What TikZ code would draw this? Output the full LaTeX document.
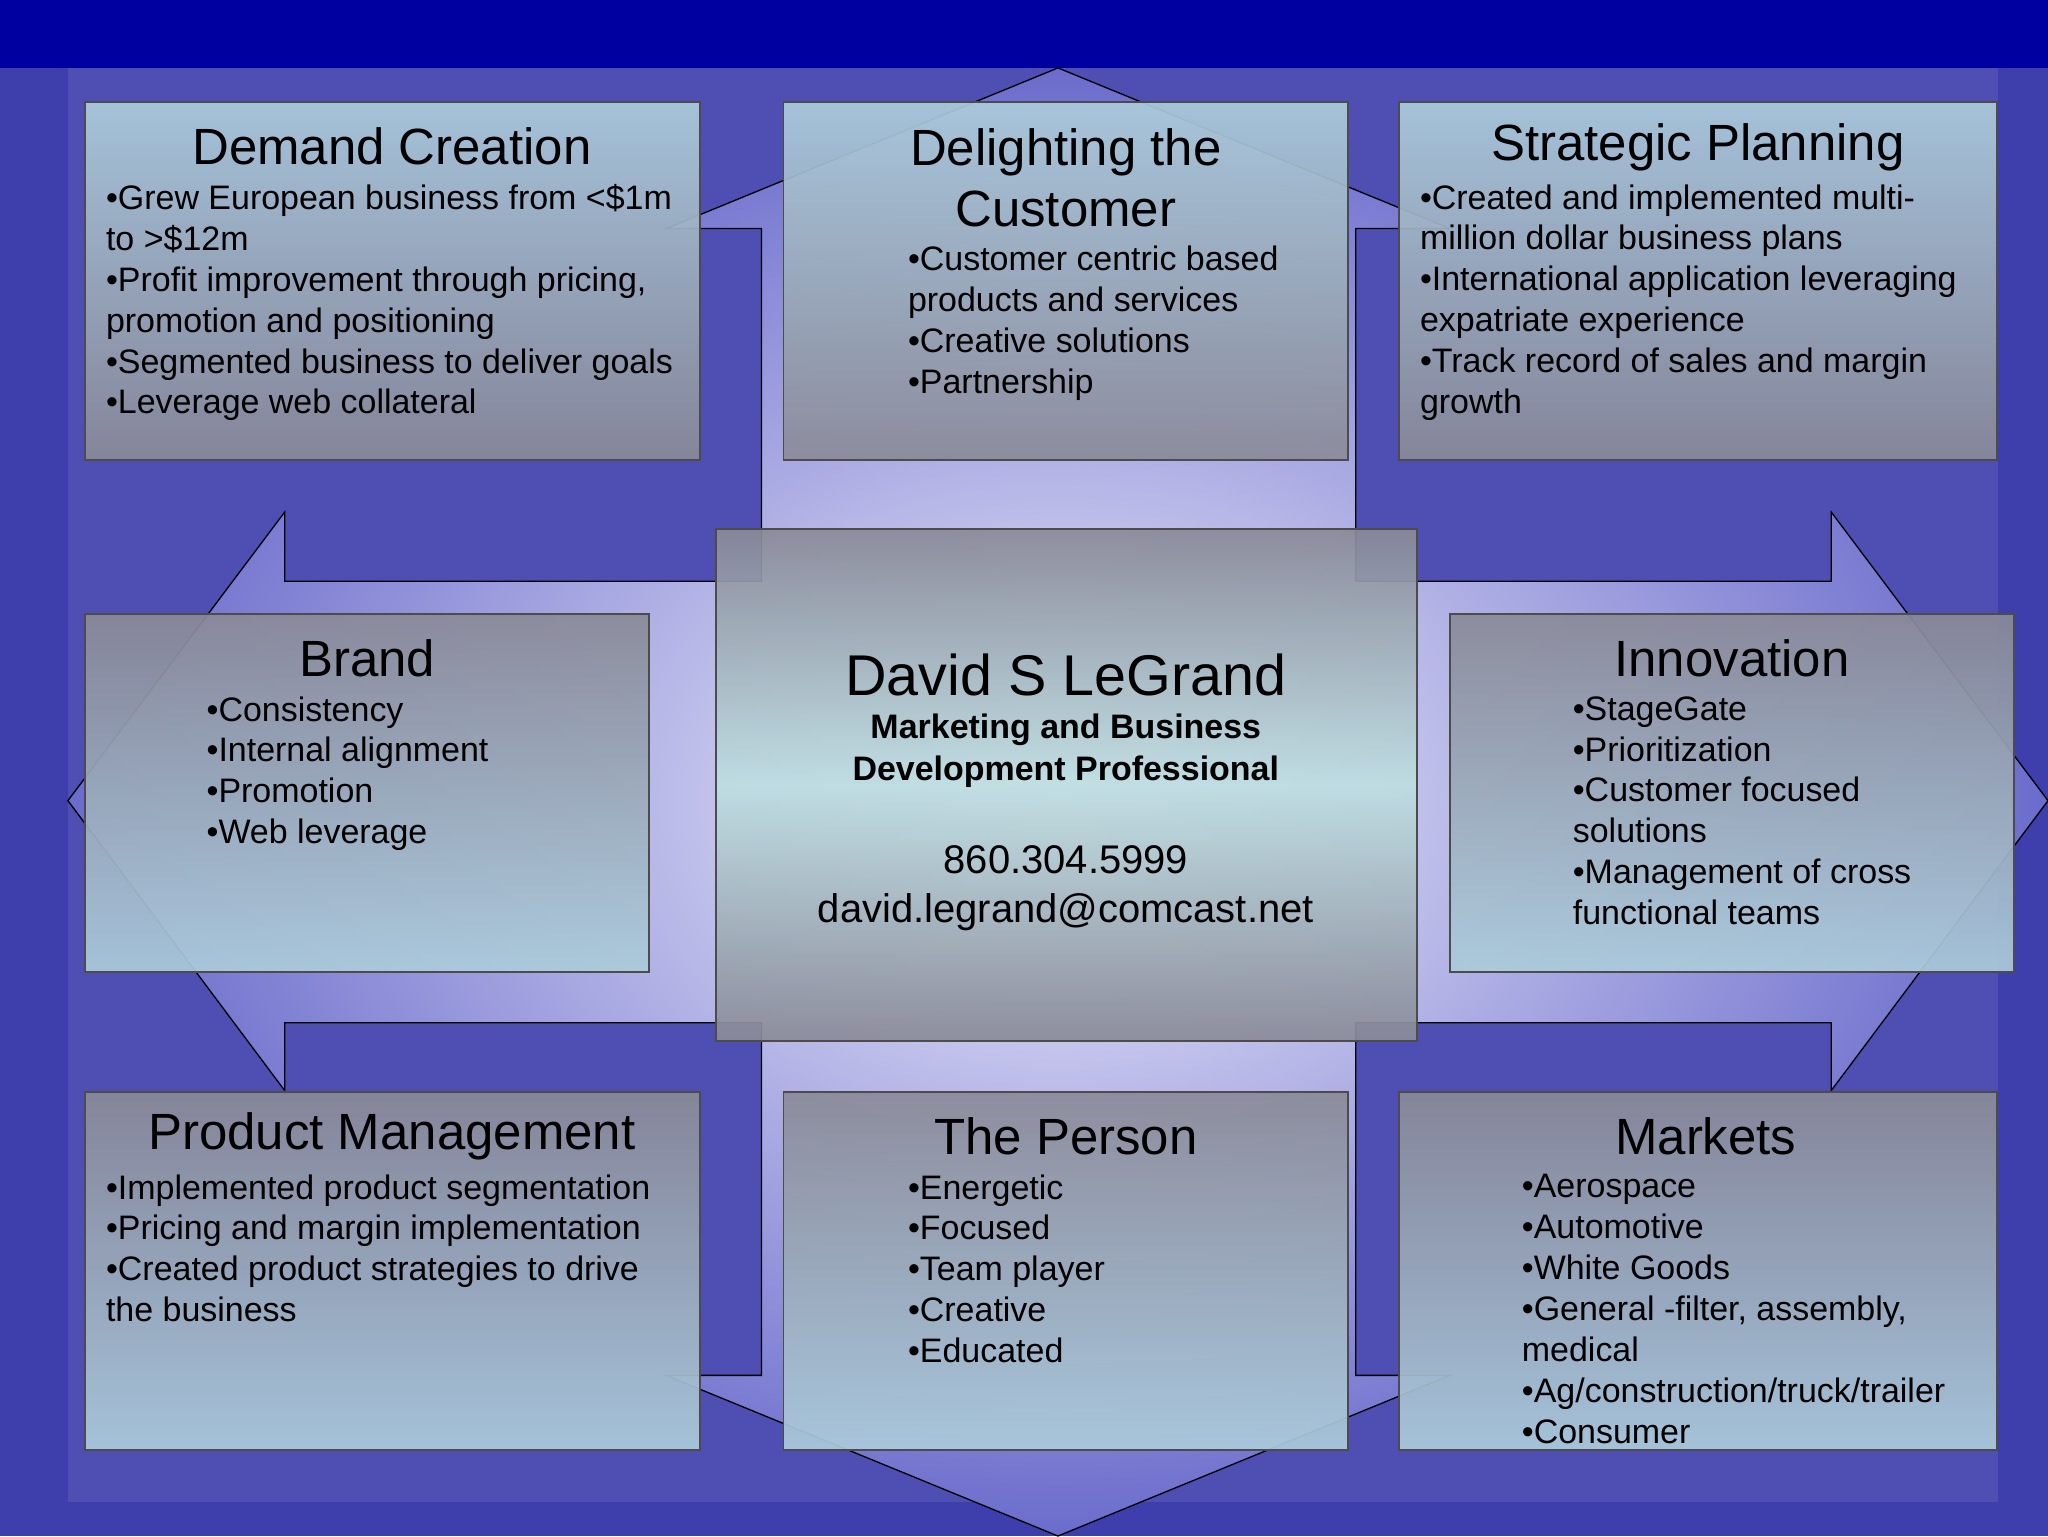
\documentclass[tikz,border=0pt]{standalone}
\usepackage{fontspec}
\setmainfont{Liberation Sans}
\usetikzlibrary{calc}
\definecolor{bgblue}{RGB}{62,62,172}
\definecolor{topblue}{RGB}{0,0,160}
\definecolor{boxlight}{RGB}{172,204,220}
\definecolor{boxgray}{RGB}{138,138,152}
\definecolor{boxmid}{RGB}{190,222,226}
\tikzset{
  x=1pt,y=-1pt,
  box/.style={draw=black!70,line width=1.2pt,fill opacity=0.92},
  downbox/.style={box,top color=boxlight,bottom color=boxgray},
  upbox/.style={box,top color=boxgray,bottom color=boxlight},
  ttl/.style={font=\fontsize{39}{47}\selectfont,align=center,inner sep=0pt},
  body/.style={font=\fontsize{26}{31.3}\selectfont,align=left,anchor=north west,inner sep=0pt},
  outline/.style={draw=black,line width=1pt}
}
\begin{document}
\begin{tikzpicture}
\useasboundingbox (0,0) rectangle (1568,1176);
\fill[bgblue] (0,0) rectangle (1568,1176);
\fill[bgblue!92!white] (52,52) rectangle (1530,1150);
\fill[topblue] (0,0) rectangle (1568,52);
\path[outline,inner color={rgb,1:red,0.94;green,0.94;blue,0.99},outer color={rgb,1:red,0.42;green,0.42;blue,0.8}]
 (810,52) -- (1110,175) -- (1038,175) -- (1038,445) -- (1402,445) -- (1402,392) -- (1568,613) -- (1402,835) -- (1402,783) -- (1038,783) -- (1038,1053) -- (1110,1053) -- (810,1176) -- (510,1053) -- (583,1053) -- (583,783) -- (218,783) -- (218,835) -- (52,613) -- (218,392) -- (218,445) -- (583,445) -- (583,175) -- (510,175) -- cycle;

% boxes
\path[downbox] (65,78) rectangle (536,352);
\path[downbox] (600,78) rectangle (1032,352);
\path[downbox] (1071,78) rectangle (1529,352);
\path[upbox] (65,470) rectangle (497,744);
\path[box,shading=axis,top color=boxgray,bottom color=boxgray,middle color=boxmid] (548,405) rectangle (1085,797);
\path[upbox] (1110,470) rectangle (1542,744);
\path[upbox] (65,836) rectangle (536,1110);
\path[upbox] (600,836) rectangle (1032,1110);
\path[upbox] (1071,836) rectangle (1529,1110);

% texts
\node[ttl] (t1) at (300,112) {Demand Creation};
\node[body] (b1) at (81,141) {•Grew European business from <\$1m\\to >\$12m\\•Profit improvement through pricing,\\promotion and positioning\\•Segmented business to deliver goals\\•Leverage web collateral};
\node[ttl] (t2) at (816,136) {Delighting the\\Customer};
\node[body] (b2) at (695,188) {•Customer centric based\\products and services\\•Creative solutions\\•Partnership};
\node[ttl] (t3) at (1300,113) {Strategic Planning};
\node[body] (b3) at (1087,141) {•Created and implemented multi-\\million dollar business plans\\•International application leveraging\\expatriate experience\\•Track record of sales and margin\\growth};
\node[ttl] (t4) at (281,504) {Brand};
\node[body] (b4) at (158,533) {•Consistency\\•Internal alignment\\•Promotion\\•Web leverage};
\node[font=\fontsize{44}{50}\selectfont,inner sep=0pt] (c1) at (816,517) {David S LeGrand};
\node[font=\bfseries\fontsize{26}{32}\selectfont,align=center,inner sep=0pt] (c2) at (816,575) {Marketing and Business\\Development Professional};
\node[font=\fontsize{30.6}{37}\selectfont,align=center,inner sep=0pt] (c3) at (816,680) {860.304.5999\\david.legrand@comcast.net};
\node[ttl] (t5) at (1326,504) {Innovation};
\node[body] (b5) at (1204,533) {•StageGate\\•Prioritization\\•Customer focused\\solutions\\•Management of cross\\functional teams};
\node[ttl] (t6) at (300,870) {Product Management};
\node[body] (b6) at (81,899) {•Implemented product segmentation\\•Pricing and margin implementation\\•Created product strategies to drive\\the business};
\node[ttl] (t7) at (816,870) {The Person};
\node[body] (b7) at (695,899) {•Energetic\\•Focused\\•Team player\\•Creative\\•Educated};
\node[ttl] (t8) at (1306,870) {Markets};
\node[body] (b8) at (1165,899) {•Aerospace\\•Automotive\\•White Goods\\•General -filter, assembly,\\medical\\•Ag/construction/truck/trailer\\•Consumer};
\end{tikzpicture}
\end{document}
